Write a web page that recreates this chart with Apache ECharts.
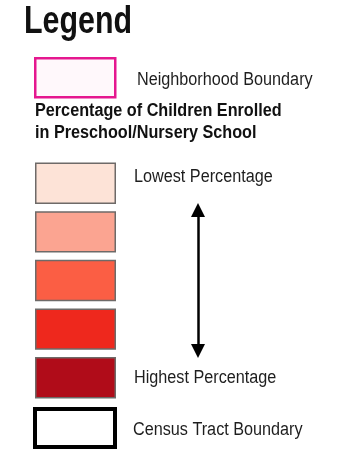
<!DOCTYPE html>
<html>
<head>
<meta charset="utf-8">
<script src="https://cdn.jsdelivr.net/npm/echarts@6/dist/echarts.min.js"></script>
<style>
  html, body { margin: 0; padding: 0; background: #fff; }
  #main { width: 339px; height: 458px; }
</style>
</head>
<body>
<div id="main"></div>
<script>
// legend texts
const legendTitle = 'Legend';
const heading = ['Percentage of Children Enrolled', 'in Preschool/Nursery School'];
const boundaryLabels = ['Neighborhood Boundary', 'Census Tract Boundary'];

// five classes, lowest to highest
const classes = [1, 2, 3, 4, 5];
const classLabels = ['Lowest Percentage', '', '', '', 'Highest Percentage'];
const classColors = ['#fde3d7', '#fba491', '#fb5e44', '#ee281d', '#b00c19'];

const FONT = "'Liberation Sans', Arial, sans-serif";
const SQUEEZE = 0.9; // the source text is a bit narrow

let myChart = echarts.init(document.getElementById('main'));

function renderSwatch(params, api) {
  const p = api.coord([api.value(0), api.value(1)]);
  const band = api.size([0, 1])[1];
  const i = api.value(2);
  const w = 81, h = band * 0.82;
  const children = [{
    type: 'rect',
    shape: { x: p[0] + 0.75, y: p[1] - h / 2, width: w - 1.5, height: h },
    style: { fill: classColors[i], stroke: '#6e6a68', lineWidth: 1.5 }
  }];
  if (classLabels[i]) {
    children.push({
      type: 'text',
      x: p[0] + w + 18,
      y: p[1] + (i === 0 ? -6 : 0),
      scaleX: SQUEEZE,
      style: {
        text: classLabels[i],
        fill: '#1e1e1e',
        fontSize: 18,
        fontFamily: FONT,
        verticalAlign: 'middle'
      }
    });
  }
  return { type: 'group', children: children };
}

let option = {
  animation: false,
  backgroundColor: '#fff',
  grid: { left: 35, right: 0, top: 159, height: 243 },
  xAxis: { type: 'value', min: 0, max: 304, show: false },
  yAxis: { type: 'value', min: 0.5, max: 5.5, inverse: true, show: false },
  graphic: [
    {
      type: 'text', x: 24, y: 23, scaleX: 0.8,
      style: { text: legendTitle, fill: '#111', fontSize: 38, fontWeight: 'bold', fontFamily: FONT, verticalAlign: 'middle' }
    },
    {
      type: 'rect',
      shape: { x: 35.25, y: 58.25, width: 80, height: 39 },
      style: { fill: '#fff8fb', stroke: '#e5178f', lineWidth: 2.5 }
    },
    {
      type: 'text', x: 137, y: 80, scaleX: SQUEEZE,
      style: { text: boundaryLabels[0], fill: '#1e1e1e', fontSize: 18, fontFamily: FONT, verticalAlign: 'middle' }
    },
    {
      type: 'text', x: 35, y: 122, scaleX: SQUEEZE,
      style: { text: heading.join('\n'), fill: '#111', fontSize: 18, lineHeight: 22, fontWeight: 'bold', fontFamily: FONT, verticalAlign: 'middle' }
    },
    {
      type: 'rect',
      shape: { x: 35, y: 409, width: 80, height: 38 },
      style: { fill: '#fff', stroke: '#000', lineWidth: 4 }
    },
    {
      type: 'text', x: 133, y: 430, scaleX: SQUEEZE,
      style: { text: boundaryLabels[1], fill: '#1e1e1e', fontSize: 18, fontFamily: FONT, verticalAlign: 'middle' }
    }
  ],
  series: [
    {
      type: 'custom',
      renderItem: renderSwatch,
      data: classes.map((c, i) => [0, c, i]),
      markLine: {
        silent: true,
        symbol: ['triangle', 'triangle'],
        symbolSize: 14,
        label: { show: false },
        lineStyle: { color: '#000', width: 2.5, type: 'solid' },
        data: [[{ coord: [163, 1.55] }, { coord: [163, 4.45] }]]
      }
    }
  ]
};

myChart.setOption(option);
window.onresize = myChart.resize;
</script>
</body>
</html>
